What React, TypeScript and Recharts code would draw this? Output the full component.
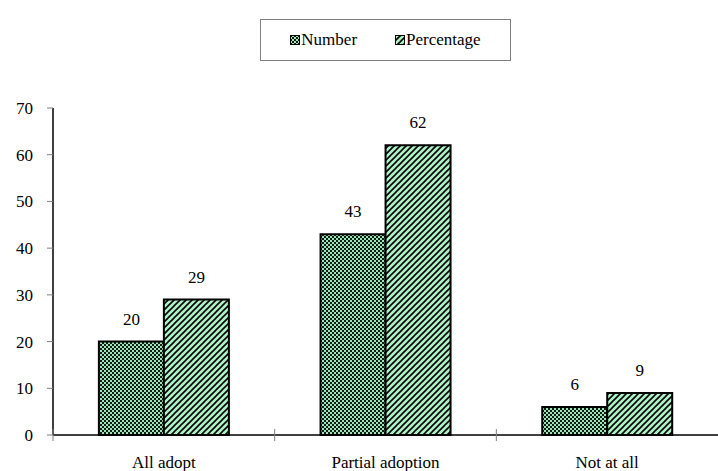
import React from 'react';
import { BarChart, Bar, XAxis, YAxis, LabelList } from 'recharts';

const categories = ['All adopt', 'Partial adoption', 'Not at all'];
const numberValues = [20, 43, 6];
const percentageValues = [29, 62, 9];
const yTicks = [0, 10, 20, 30, 40, 50, 60, 70];
const seriesNames = ['Number', 'Percentage'];

const data = categories.map((c, i) => ({
  name: c,
  Number: numberValues[i],
  Percentage: percentageValues[i],
}));

const FONT = '"Liberation Serif", Tinos, "Times New Roman", serif';

const css = `
html body #root div.serifchart, html body #root div.serifchart *, html body #root div.serifchart svg text, html body #root div.serifchart svg tspan {
  font-family: "Liberation Serif", Tinos, "Times New Roman", serif !important;
}
`;

const Patterns = () => (
  <svg width={0} height={0} style={{ position: 'absolute' }}>
    <defs>
      <pattern id="checker" patternUnits="userSpaceOnUse" width={4} height={4}>
        <rect x={0} y={0} width={4} height={4} fill="#9fe3b6" />
        <rect x={0} y={0} width={2} height={2} fill="#0d1f14" />
        <rect x={2} y={2} width={2} height={2} fill="#0d1f14" />
      </pattern>
      <pattern id="diag" patternUnits="userSpaceOnUse" width={6} height={6}>
        <rect x={0} y={0} width={6} height={6} fill="#aef3c6" />
        <path d="M0,6 L6,0 M-1.5,1.5 L1.5,-1.5 M4.5,7.5 L7.5,4.5" stroke="#000" strokeWidth={1.6} />
      </pattern>
    </defs>
  </svg>
);

const XTick = (props: any) => {
  const { x, y, payload } = props;
  const off = payload && typeof payload.offset === 'number' ? payload.offset : 0;
  return (
    <g>
      <line x1={x - off} x2={x - off} y1={y - 6} y2={y + 6} stroke="#808080" strokeWidth={1} />
      <text x={x} y={y + 33} textAnchor="middle" fontFamily={FONT} fontSize={17} fill="#000">
        {payload.value}
      </text>
    </g>
  );
};

const fills = ['url(#checker)', 'url(#diag)'];
const labelStyle = { fontFamily: FONT, fontSize: 17, fill: '#000' };

export default function App() {
  return (
    <div className="serifchart" style={{ position: 'absolute', left: 0, top: 0, width: 718, height: 471, background: '#fff', fontFamily: FONT }}>
      <style>{css}</style>
      <Patterns />
      <div
        style={{
          position: 'absolute',
          left: 260,
          top: 19,
          width: 251,
          height: 42,
          border: '1px solid #808080',
          boxSizing: 'border-box',
          display: 'flex',
          alignItems: 'center',
          justifyContent: 'center',
          fontFamily: FONT,
          fontSize: 17,
          gap: 38,
        }}
      >
        {seriesNames.map((n, i) => (
          <div key={n} style={{ display: 'flex', alignItems: 'center' }}>
            <svg width={10} height={10} style={{ marginRight: 1 }}>
              <rect x={0.5} y={0.5} width={9} height={9} fill={fills[i]} stroke="#000" strokeWidth={1} />
            </svg>
            <span>{n}</span>
          </div>
        ))}
      </div>
      <BarChart
        width={718}
        height={471}
        data={data}
        margin={{ top: 108, right: 0, left: 0, bottom: 6 }}
        barCategoryGap="20.7%"
        barGap={0}
      >
        <XAxis
          dataKey="name"
          height={30}
          tick={<XTick />}
          tickLine={false}
          tickSize={0}
          tickMargin={0}
          axisLine={{ stroke: '#000', strokeWidth: 1.5 }}
          interval={0}
        />
        <YAxis
          width={53}
          domain={[0, 70]}
          ticks={yTicks}
          interval={0}
          tickSize={6}
          tickMargin={14}
          tickLine={{ stroke: '#808080' }}
          axisLine={{ stroke: '#000', strokeWidth: 1.5 }}
          tick={{ fontFamily: FONT, fontSize: 17, fill: '#000' }}
        />
        <Bar dataKey="Number" fill="url(#checker)" stroke="#000" strokeWidth={2} isAnimationActive={false}>
          <LabelList dataKey="Number" position="top" offset={17} style={labelStyle} />
        </Bar>
        <Bar dataKey="Percentage" fill="url(#diag)" stroke="#000" strokeWidth={2} isAnimationActive={false}>
          <LabelList dataKey="Percentage" position="top" offset={17} style={labelStyle} />
        </Bar>
      </BarChart>
    </div>
  );
}
